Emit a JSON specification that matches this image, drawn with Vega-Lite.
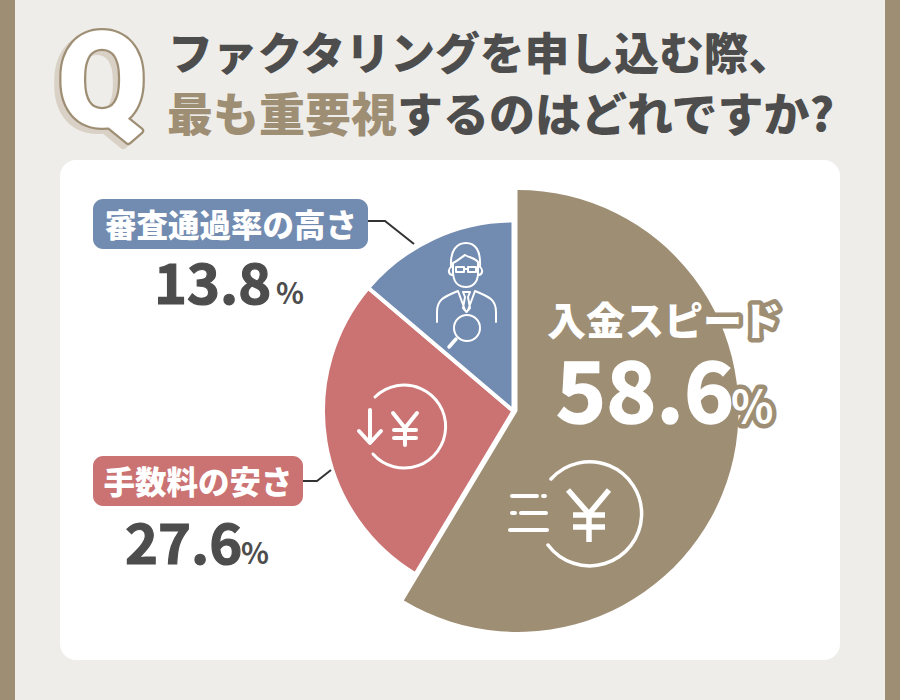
{
"$schema":"https://vega.github.io/schema/vega-lite/v6.json",
"width":900,"height":700,"padding":0,
"autosize":{"type":"fit","contains":"padding"},
"background":"#EEEDE9",
"view":{"stroke":null},
"config":{"text":{"font":"Noto Sans CJK JP","fontWeight":"bold","baseline":"alphabetic","align":"left"}},
"datasets":{"answers":[
{"answer":"入金スピード","share":58.6,"rank":1,"pct":"58.6"},
{"answer":"手数料の安さ","share":27.6,"rank":2,"pct":"27.6"},
{"answer":"審査通過率の高さ","share":13.8,"rank":3,"pct":"13.8"}]},
"data":{"name":"answers"},
"layer":[
{"data":{"values":[{}]},"mark":{"type":"rect","color":"#9E8E74"},"encoding":{"x":{"value":0},"x2":{"value":15},"y":{"value":0},"y2":{"value":700}}},
{"data":{"values":[{}]},"mark":{"type":"rect","color":"#9E8E74"},"encoding":{"x":{"value":885},"x2":{"value":900},"y":{"value":0},"y2":{"value":700}}},
{"data":{"values":[{}]},"mark":{"type":"rect","color":"#FFFFFF","cornerRadius":16},"encoding":{"x":{"value":60},"x2":{"value":840},"y":{"value":160},"y2":{"value":660}}},

{"data":{"values":[{"t":"Q"}]},"mark":{"type":"text","font":"Roboto","fontSize":128,"align":"center","stroke":"#D9D1C6","strokeWidth":8,"strokeJoin":"round","fill":"#D9D1C6"},"encoding":{"text":{"field":"t"},"x":{"value":97},"y":{"value":129}}},
{"data":{"values":[{"t":"Q"}]},"mark":{"type":"text","font":"Roboto","fontSize":128,"align":"center","stroke":"#9E8E74","strokeWidth":8,"strokeJoin":"round","fill":"#9E8E74"},"encoding":{"text":{"field":"t"},"x":{"value":102},"y":{"value":125}}},
{"data":{"values":[{"t":"Q"}]},"mark":{"type":"text","font":"Roboto","fontSize":128,"align":"center","stroke":"#FFFFFF","strokeWidth":3.5,"strokeJoin":"round","fill":"#FFFFFF"},"encoding":{"text":{"field":"t"},"x":{"value":102},"y":{"value":125}}},

{"data":{"values":[{"t":"ファクタリングを申し込む際、"}]},"mark":{"type":"text","fontSize":44.8,"fontWeight":900,"fill":"#4D4D4D"},"encoding":{"text":{"field":"t"},"x":{"value":168},"y":{"value":70}}},
{"data":{"values":[{"t":"最も重要視"}]},"mark":{"type":"text","fontSize":46,"fontWeight":900,"fill":"#9E8E74"},"encoding":{"text":{"field":"t"},"x":{"value":167},"y":{"value":131}}},
{"data":{"values":[{"t":"するのはどれですか?"}]},"mark":{"type":"text","fontSize":46,"fontWeight":900,"fill":"#4D4D4D"},"encoding":{"text":{"field":"t"},"x":{"value":397},"y":{"value":131}}},

{"mark":{"type":"arc","outerRadius":190.5,"stroke":"#FFFFFF","strokeWidth":4},
 "encoding":{"theta":{"field":"share","type":"quantitative","stack":true},"order":{"field":"rank"},
 "color":{"field":"answer","type":"nominal","legend":null,"scale":{"domain":["入金スピード","手数料の安さ","審査通過率の高さ"],"range":["#9E8E74","#CB7272","#728BB0"]}},
 "opacity":{"condition":{"test":"datum.rank>1","value":1},"value":0},
 "x":{"value":513.5},"y":{"value":411}}},
{"mark":{"type":"arc","outerRadius":221},
 "encoding":{"theta":{"field":"share","type":"quantitative","stack":true},"order":{"field":"rank"},
 "color":{"field":"answer","type":"nominal","legend":null},
 "opacity":{"condition":{"test":"datum.rank==1","value":1},"value":0},
 "x":{"value":517.5},"y":{"value":411}}},

{"data":{"values":[{}]},"mark":{"type":"rect","color":"#728BB0","cornerRadius":10},"encoding":{"x":{"value":93},"x2":{"value":368},"y":{"value":199},"y2":{"value":249}}},
{"data":{"values":[{}]},"mark":{"type":"rect","color":"#CB7272","cornerRadius":10},"encoding":{"x":{"value":93},"x2":{"value":303},"y":{"value":456},"y2":{"value":506}}},
{"data":{"values":[{}]},"mark":{"type":"point","size":4,"opacity":1,"filled":false,"stroke":"#333333","strokeWidth":2,"shape":"M0,0 L17,0 L46,23"},"encoding":{"x":{"value":368},"y":{"value":221}}},
{"data":{"values":[{}]},"mark":{"type":"point","size":4,"opacity":1,"filled":false,"stroke":"#333333","strokeWidth":2,"shape":"M0,0 L14,0 L28,-11"},"encoding":{"x":{"value":303},"y":{"value":481}}},

{"transform":[{"filter":"datum.rank==3"}],"mark":{"type":"text","fontSize":31.5,"fontWeight":900,"align":"center","fill":"#FFFFFF"},"encoding":{"text":{"field":"answer"},"x":{"value":231},"y":{"value":237}}},
{"transform":[{"filter":"datum.rank==2"}],"mark":{"type":"text","fontSize":31.5,"fontWeight":900,"align":"center","fill":"#FFFFFF"},"encoding":{"text":{"field":"answer"},"x":{"value":198},"y":{"value":494}}},
{"transform":[{"filter":"datum.rank==3"}],"mark":{"type":"text","fontSize":56,"fill":"#4D4D4D","stroke":"#4D4D4D","strokeWidth":1.2},"encoding":{"text":{"field":"pct"},"x":{"value":154},"y":{"value":304}}},
{"transform":[{"filter":"datum.rank==2"}],"mark":{"type":"text","fontSize":56,"fill":"#4D4D4D","stroke":"#4D4D4D","strokeWidth":1.2},"encoding":{"text":{"field":"pct"},"x":{"value":125},"y":{"value":564}}},
{"data":{"values":[{"t":"%"}]},"mark":{"type":"text","fontSize":29,"fill":"#4D4D4D"},"encoding":{"text":{"field":"t"},"x":{"value":276},"y":{"value":304}}},
{"data":{"values":[{"t":"%"}]},"mark":{"type":"text","fontSize":29,"fill":"#4D4D4D"},"encoding":{"text":{"field":"t"},"x":{"value":241},"y":{"value":564}}},

{"transform":[{"filter":"datum.rank==1"}],"mark":{"type":"text","fontSize":39,"fontWeight":900,"align":"center","fill":"#9E8E74","stroke":"#9E8E74","strokeWidth":9,"strokeJoin":"round"},"encoding":{"text":{"field":"answer"},"x":{"value":664},"y":{"value":335}}},
{"data":{"values":[{"t":"%"}]},"mark":{"type":"text","fontSize":44,"fill":"#9E8E74","stroke":"#9E8E74","strokeWidth":9,"strokeJoin":"round"},"encoding":{"text":{"field":"t"},"x":{"value":731},"y":{"value":423}}},
{"transform":[{"filter":"datum.rank==1"}],"mark":{"type":"text","fontSize":39,"fontWeight":900,"align":"center","fill":"#FFFFFF"},"encoding":{"text":{"field":"answer"},"x":{"value":664},"y":{"value":335}}},
{"transform":[{"filter":"datum.rank==1"}],"mark":{"type":"text","fontSize":85,"fill":"#FFFFFF","stroke":"#FFFFFF","strokeWidth":1.5},"encoding":{"text":{"field":"pct"},"x":{"value":556},"y":{"value":423}}},
{"data":{"values":[{"t":"%"}]},"mark":{"type":"text","fontSize":44,"fill":"#FFFFFF"},"encoding":{"text":{"field":"t"},"x":{"value":731},"y":{"value":423}}},

{"data":{"values":[{}]},"mark":{"type":"point","size":4,"opacity":1,"filled":false,"stroke":"#FFFFFF","strokeWidth":3.5,"strokeCap":"round","shape":"M-39,-34 A52,52 0 1 1 -42,32"},"encoding":{"x":{"value":590},"y":{"value":513}}},
{"data":{"values":[{}]},"mark":{"type":"point","size":4,"opacity":1,"filled":false,"stroke":"#FFFFFF","strokeWidth":4,"strokeCap":"round","shape":"M-78,-17 L-53,-17 M-47,-17 L-45,-17 M-78,0 L-75,0 M-69,0 L-44,0 M-80,17 L-43,17"},"encoding":{"x":{"value":590},"y":{"value":513}}},
{"data":{"values":[{}]},"mark":{"type":"point","size":4,"opacity":1,"filled":false,"stroke":"#FFFFFF","strokeWidth":5.5,"shape":"M-22,-23 L-1,1 L19,-23 M-1,1 L-1,29 M-17,2 L15,2 M-17,14 L15,14"},"encoding":{"x":{"value":590},"y":{"value":513}}},

{"data":{"values":[{}]},"mark":{"type":"point","size":4,"opacity":1,"filled":false,"stroke":"#FFFFFF","strokeWidth":3,"strokeCap":"round","shape":"M-29,-30 A41.5,41.5 0 1 1 -31,27"},"encoding":{"x":{"value":404},"y":{"value":427}}},
{"data":{"values":[{}]},"mark":{"type":"point","size":4,"opacity":1,"filled":false,"stroke":"#FFFFFF","strokeWidth":4,"strokeCap":"round","strokeJoin":"round","shape":"M-34,-17 L-34,15 M-45,4 L-34,16 L-23,4 M-11,-14 L1,1 L13,-14 M1,1 L1,18 M-10,3 L12,3 M-10,11 L12,11"},"encoding":{"x":{"value":404},"y":{"value":427}}},

{"data":{"values":[{}]},"mark":{"type":"point","size":4,"opacity":1,"filled":false,"stroke":"#FFFFFF","strokeWidth":2,"strokeCap":"round","strokeJoin":"round","shape":"M-14,-33 C-15,-50 -8,-57 1,-57 C10,-57 16,-50 15,-33 M-12,-37 C-6,-40 -2,-44 0,-45 C5,-42 10,-42 13,-38 M-12,-37 L-12,-27 C-11,-15 -5,-13 1,-13 C7,-13 13,-17 13,-27 L13,-37 M-14,-33 C-17,-31 -17,-26 -13,-25 M15,-33 C18,-31 18,-26 14,-25 M-9,-33 L-1,-33 L-1,-28 L-9,-28 Z M3,-33 L11,-33 L11,-28 L3,-28 Z M-1,-31 L3,-31 M-28,22 L-28,12 C-28,0 -22,-3 -7,-9 M31,22 L31,12 C31,0 25,-3 10,-9 M-7,-9 L0,10 M10,-9 L3,10 M-2,-8 L5,-8 L3,-3 L5,8 L1.5,12 L-2,8 L0,-3 Z M2,41 A13,13 0 1 1 2,15 A13,13 0 1 1 2,41"},"encoding":{"x":{"value":465},"y":{"value":300}}},
{"data":{"values":[{}]},"mark":{"type":"point","size":4,"opacity":1,"filled":false,"stroke":"#FFFFFF","strokeWidth":3.5,"strokeCap":"round","shape":"M-9,39 L-16,47"},"encoding":{"x":{"value":465},"y":{"value":300}}}
]
}
